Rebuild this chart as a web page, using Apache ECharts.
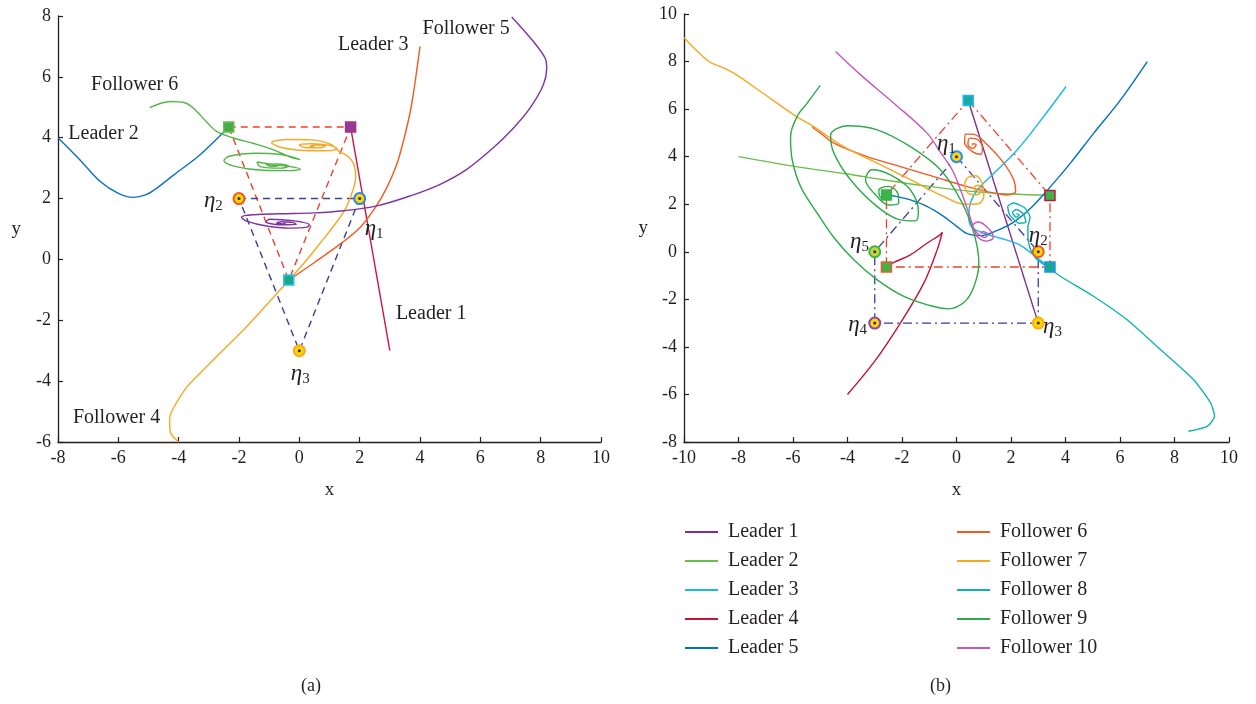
<!DOCTYPE html>
<html><head><meta charset="utf-8">
<script src="https://cdn.jsdelivr.net/npm/echarts@6/dist/echarts.min.js"></script>
<style>html,body{margin:0;padding:0;background:#fff}#c{width:1256px;height:704px}</style>
</head><body><div id="c"></div>
<script>
// ---------- Panel (a) data ----------
const aXTicks = [-8,-6,-4,-2,0,2,4,6,8,10];
const aYTicks = [-6,-4,-2,0,2,4,6,8];
const aLeader1 = [[3,-3],[1.7,4.35]];
const aLeader2 = [[-8,4],[-7.3,3.3],[-6.6,2.56],[-6,2.17],[-5.5,2.04],[-5.1,2.12],[-4.77,2.31],[-4.16,2.78],[-3.28,3.45],[-2.34,4.35]];
const aLeader3 = [[4,7],[3.84,5.85],[3.68,4.87],[3.45,3.89],[3.23,3.13],[2.9,2.36],[2.52,1.71],[2.02,1.06],[1.36,0.51],[0.5,-0.1],[-0.35,-0.68]];
const aFollower4 = [[-4,-6],[-4.28,-5.65],[-4.3,-5.25],[-4.08,-4.72],[-3.75,-4.22],[-3.2,-3.65],[-2.5,-2.95],[-1.75,-2.21],[-1.0,-1.4],[-0.4,-0.74],[0.2,-0.07],[0.7,0.55],[1.1,1.05],[1.51,1.63],[1.76,2.23],[1.87,2.72],[1.81,3.11],[1.62,3.38],[1.32,3.55],[1.05,3.78],[0.4,3.93],[-0.4,3.94],[-0.92,3.84],[-0.6,3.68],[0.2,3.58],[0.9,3.57],[1.25,3.64],[1.0,3.75],[0.4,3.8],[0.0,3.76],[0.2,3.68],[0.7,3.67],[0.85,3.72],[0.55,3.76],[0.35,3.72],[0.5,3.71]];
const aFollower5 = [[7.04,7.97],[7.76,7.16],[8.15,6.61],[8.2,6.28],[8.09,5.74],[7.65,4.98],[7.1,4.32],[6.43,3.67],[5.55,2.96],[4.67,2.47],[3.68,2.09],[2.57,1.76],[1.47,1.6],[0.5,1.53],[-0.65,1.5],[-1.5,1.47],[-1.92,1.39],[-1.75,1.26],[-1.09,1.1],[-0.31,1.03],[0.25,1.06],[0.33,1.14],[-0.2,1.27],[-0.98,1.32],[-1.1,1.24],[-0.65,1.14],[-0.1,1.15],[-0.2,1.21],[-0.6,1.24],[-0.75,1.2],[-0.55,1.17],[-0.45,1.2]];
const aFollower6 = [[-4.96,4.99],[-4.27,5.19],[-3.77,5.14],[-3.44,4.9],[-3.06,4.5],[-2.73,4.2],[-2.18,3.99],[-1.51,3.81],[-0.85,3.6],[-0.3,3.36],[0.03,3.28],[-0.6,3.45],[-1.5,3.49],[-2.3,3.4],[-2.5,3.25],[-2.1,3.05],[-1.2,2.93],[-0.3,2.92],[0.04,2.97],[-0.3,3.05],[-0.9,3.12],[-1.4,3.2],[-1.3,3.05],[-0.6,3.0],[-0.35,3.07],[-0.7,3.14],[-1.1,3.12],[-0.9,3.06],[-0.7,3.09],[-0.85,3.1]];
const aRedTriangle = [[-2.34,4.35],[1.7,4.35],[-0.35,-0.68],[-2.34,4.35]];
const aEtaTriangle = [[-2,2],[2,2],[0,-3],[-2,2]];
const aSquarePos = [[-2.34,4.35],[1.7,4.35],[-0.35,-0.68]];
const aSquareFill = ['#44ad4a','#8e3a9e','#18a88f'];
const aSquareEdge = ['#6abf4b','#b8306a','#2ec4e6'];
const aEtaPos = [[2,2],[-2,2],[0,-3]];
const aEtaEdge = ['#2e86de','#f05a28','#f7a823'];
const aEtaLabelPos = [[2.48,1.01],[-2.85,1.93],[0.03,-3.76]];
const aEtaLabelIdx = ['1','2','3'];
const aTextLabels = ['Follower 6','Leader 2','Leader 3','Follower 5','Leader 1','Follower 4'];
const aTextPos = [[-5.46,5.75],[-6.49,4.12],[2.45,7.06],[5.53,7.58],[4.37,-1.8],[-6.06,-5.2]];

// ---------- Panel (b) data ----------
const bLeader1 = [[3,-3],[0.43,6.36]];
const bLeader2 = [[-8,4],[-6,3.6],[-4,3.27],[-2.7,3.03],[-1,2.75],[0.64,2.53],[2,2.43],[3.43,2.37]];
const bLeader3 = [[4.02,6.95],[3.2,5.69],[2.23,4.29],[1.37,3.3],[0.76,2.6],[0.51,2.05],[0.45,1.48],[0.55,1.05],[1.0,0.78],[1.61,0.57],[2.2,0.35],[2.59,0.08],[3.0,-0.3],[3.43,-0.64]];
const bLeader4 = [[-4,-6],[-3,-4.6],[-2.06,-3],[-1.2,-1.32],[-0.71,0.08],[-0.52,0.82],[-0.62,0.7],[-1.07,0.37],[-1.69,-0.13],[-2.3,-0.45],[-2.57,-0.64]];
const bLeader5 = [[7,8],[6.02,6.39],[5.04,4.99],[4.18,3.73],[3.45,2.74],[2.72,1.83],[2.1,1.25],[1.5,0.9],[0.9,0.68],[0.39,0.76],[0.02,1.06],[-0.46,1.48],[-1.07,1.9],[-1.69,2.18],[-2.18,2.32],[-2.57,2.39]];
const bFollower6 = [[-5.3,5.25],[-5.0,5.0],[-4.5,4.57],[-3.28,4.0],[-2.06,3.58],[-0.83,3.16],[0.39,2.74],[1.13,2.53],[1.86,2.39],[2.17,2.55],[2.1,3.03],[1.74,3.73],[1.13,4.5],[0.6,4.95],[0.32,4.95],[0.3,4.6],[0.6,4.2],[0.9,4.1],[0.95,4.35],[0.8,4.7],[0.5,4.78],[0.42,4.5],[0.6,4.35],[0.72,4.5],[0.6,4.55],[0.58,4.48]];
const bFollower7 = [[-10,9],[-9.09,8.0],[-8.66,7.79],[-8.17,7.51],[-7.19,6.74],[-5.97,5.76],[-5.24,5.26],[-4.14,4.42],[-2.91,3.73],[-1.69,3.03],[-0.46,2.32],[0.3,2.0],[0.8,2.02],[1.0,2.35],[0.95,2.85],[0.7,3.2],[0.42,3.12],[0.3,2.8],[0.45,2.45],[0.75,2.4],[0.92,2.6],[0.82,2.8],[0.65,2.72],[0.68,2.58],[0.78,2.6]];
const bFollower8 = [[8.51,-7.55],[9.2,-7.34],[9.47,-6.92],[9.32,-6.35],[8.7,-5.38],[7.49,-4.12],[6.26,-2.86],[5.04,-1.88],[3.82,-1.04],[3.38,-0.67],[2.96,-0.34],[2.72,0.08],[2.62,0.6],[2.62,1.05],[2.7,1.45],[2.5,1.85],[2.1,2.05],[1.88,1.9],[1.95,1.55],[2.3,1.2],[2.55,1.25],[2.45,1.6],[2.2,1.78],[2.05,1.65],[2.2,1.45],[2.3,1.55],[2.2,1.6]];
const bFollower9 = [[-5,7],[-5.48,6.25],[-5.85,5.69],[-6.09,4.84],[-6.03,3.87],[-5.72,2.74],[-5.11,1.62],[-4.5,0.6],[-3.77,-0.34],[-2.91,-1.18],[-1.93,-1.88],[-1.07,-2.23],[-0.3,-2.4],[0.3,-2.1],[0.64,-1.46],[0.82,-0.48],[0.64,0.78],[0.15,2.18],[-0.59,3.45],[-1.69,4.42],[-2.91,5.13],[-4.0,5.3],[-4.62,4.9],[-4.5,4.15],[-3.89,3.03],[-2.91,1.9],[-2.06,1.34],[-1.5,1.3],[-1.4,1.7],[-1.69,2.6],[-2.42,3.23],[-3.1,3.45],[-3.34,3.03],[-3.03,2.47],[-2.48,1.97],[-2.12,2.05],[-2.15,2.45],[-2.5,2.75],[-2.85,2.6],[-2.8,2.3],[-2.5,2.2],[-2.45,2.45],[-2.6,2.5],[-2.57,2.39]];
const bFollower10 = [[-4.44,8.42],[-3.52,7.44],[-2.3,6.25],[-1.08,4.99],[-0.6,4.2],[-0.16,3.45],[0.15,2.6],[0.45,1.62],[0.6,1.1],[0.75,0.65],[1.1,0.45],[1.35,0.6],[1.2,0.95],[0.8,1.25],[0.6,1.1],[0.75,0.8],[1.05,0.6],[1.15,0.75],[0.95,0.85],[0.9,0.75]];
const bRedPentagon = [[0.43,6.36],[3.43,2.37],[3.43,-0.64],[-2.57,-0.64],[-2.57,2.39],[0.43,6.36]];
const bEtaPentagon = [[0,4],[3,0],[3,-3],[-3,-3],[-3,0],[0,4]];
const bSquarePos = [[0.43,6.36],[3.43,2.37],[3.43,-0.64],[-2.57,-0.64],[-2.57,2.39]];
const bSquareFill = ['#1aa8a8','#3cb44b','#1aa88a','#3cb44b','#3cb44b'];
const bSquareEdge = ['#29b6e8','#c0143c','#1e90ff','#f05a28','#3cb44b'];
const bEtaPos = [[0,4],[3,0],[3,-3],[-3,-3],[-3,0]];
const bEtaFill = ['#ffd400','#ffd400','#ffd400','#ffd400','#c8d62e'];
const bEtaEdge = ['#1e90ff','#f05a28','#f7b500','#8e44ad','#3cb44b'];
const bEtaLabelPos = [[-0.37,4.54],[3.0,0.67],[3.52,-3.15],[-3.63,-3.07],[-3.56,0.42]];
const bEtaLabelIdx = ['1','2','3','4','5'];

const legendLeft = ['Leader 1','Leader 2','Leader 3','Leader 4','Leader 5'];
const legendRight = ['Follower 6','Follower 7','Follower 8','Follower 9','Follower 10'];

const SERIF = "'Liberation Serif', 'DejaVu Serif', serif";
const INK = '#231f20';

function axisCommon(){
  return {
    type:'value',
    axisLine:{show:true,onZero:false,lineStyle:{color:INK,width:1.3}},
    axisTick:{show:true,inside:true,length:5,lineStyle:{color:INK,width:1.2}},
    splitLine:{show:false},
    axisLabel:{color:INK,fontFamily:SERIF,fontSize:18,margin:7},
    nameTextStyle:{color:INK,fontFamily:SERIF,fontSize:19},
    nameLocation:'middle'
  };
}
function lineS(name, data, color, g, extra){
  return Object.assign({
    type:'line', name:name, data:data, xAxisIndex:g, yAxisIndex:g,
    symbol:'none', smooth:0.35, lineStyle:{color:color,width:1.4}, itemStyle:{color:color},
    z:3, silent:true, clip:false
  }, extra||{});
}
function squares(pos, fill, edge, g){
  return {type:'scatter', xAxisIndex:g, yAxisIndex:g, symbol:'rect', symbolSize:10, z:6, silent:true,
    data:pos.map((p,i)=>({value:p,itemStyle:{color:fill[i],borderColor:edge[i],borderWidth:1.5,opacity:1}}))};
}
function etas(pos, fill, edge, g){
  return [{type:'scatter', xAxisIndex:g, yAxisIndex:g, symbol:'circle', symbolSize:11, z:6, silent:true,
    data:pos.map((p,i)=>({value:p,itemStyle:{color:fill[i],borderColor:edge[i],borderWidth:2,opacity:1}}))},
    {type:'scatter', xAxisIndex:g, yAxisIndex:g, symbol:'circle', symbolSize:3, z:7, silent:true,
    itemStyle:{color:'#2b2b6b',opacity:1}, data:pos.map(p=>p)}];
}
function etaLabels(pos, idx, g){
  return {type:'scatter', xAxisIndex:g, yAxisIndex:g, symbolSize:0, z:8, silent:true,
    itemStyle:{opacity:1},
    data:pos.map((p,i)=>({value:p,name:idx[i]})),
    label:{show:true,position:'inside',align:'center',verticalAlign:'middle',
      formatter:(d)=>'{e|η}{s|'+d.name+'}',
      rich:{e:{fontFamily:SERIF,fontStyle:'italic',fontSize:23,color:INK},
            s:{fontFamily:SERIF,fontSize:15,color:INK,verticalAlign:'bottom',padding:[10,0,0,0]}}}};
}

const aFill = aEtaPos.map(()=>'#ffd400');
const series = [
  lineS('aRed', aRedTriangle, '#f0402a', 0, {smooth:false, z:2, lineStyle:{color:'#f0402a',width:1.4,type:[7,5]}}),
  lineS('aEta', aEtaTriangle, '#3d3d99', 0, {smooth:false, z:2, lineStyle:{color:'#3d3d99',width:1.4,type:[7,5]}}),
  lineS('aL1', aLeader1, '#c8174b', 0, {smooth:false}),
  lineS('aL2', aLeader2, '#0a72c0', 0),
  lineS('aL3', aLeader3, '#f25a22', 0),
  lineS('aF4', aFollower4, '#f7a823', 0),
  lineS('aF5', aFollower5, '#8033a0', 0),
  lineS('aF6', aFollower6, '#55b447', 0),
  squares(aSquarePos, aSquareFill, aSquareEdge, 0),
  ...etas(aEtaPos, aFill, aEtaEdge, 0),
  etaLabels(aEtaLabelPos, aEtaLabelIdx, 0),
  {type:'scatter', xAxisIndex:0, yAxisIndex:0, symbolSize:0, z:8, silent:true, itemStyle:{opacity:1},
   data:aTextPos.map((p,i)=>({value:p,name:aTextLabels[i]})),
   label:{show:true,position:'inside',align:'center',verticalAlign:'middle',formatter:'{b}',
     fontFamily:SERIF,fontSize:20,color:INK}},

  lineS('bRed', bRedPentagon, '#f0402a', 1, {smooth:false, z:2, lineStyle:{color:'#f0402a',width:1.3,type:[9,4,2,4]}}),
  lineS('bEta', bEtaPentagon, '#3d3d99', 1, {smooth:false, z:2, lineStyle:{color:'#3d3d99',width:1.3,type:[9,4,2,4]}}),
  lineS('Leader 1', bLeader1, '#7e2f8e', 1, {smooth:false}),
  lineS('Leader 2', bLeader2, '#6abf4b', 1),
  lineS('Leader 3', bLeader3, '#1bb8e8', 1),
  lineS('Leader 4', bLeader4, '#c0143c', 1),
  lineS('Leader 5', bLeader5, '#0072bd', 1),
  lineS('Follower 6', bFollower6, '#f15a24', 1),
  lineS('Follower 7', bFollower7, '#f7a823', 1),
  lineS('Follower 8', bFollower8, '#12b2b2', 1, {smooth:0.2}),
  lineS('Follower 9', bFollower9, '#2eaa4a', 1),
  lineS('Follower 10', bFollower10, '#c558b8', 1),
  squares(bSquarePos, bSquareFill, bSquareEdge, 1),
  ...etas(bEtaPos, bEtaFill, bEtaEdge, 1),
  etaLabels(bEtaLabelPos, bEtaLabelIdx, 1)
];

const legendCommon = {orient:'vertical', padding:0, itemWidth:33, itemHeight:14, itemGap:9, icon:'path://M0,0L33,0L33,2L0,2Z',
  textStyle:{fontFamily:SERIF,fontSize:20,color:INK,padding:[0,0,0,5]}, selectedMode:false};

const option = {
  animation:false,
  backgroundColor:'#fff',
  grid:[{left:58,top:16,width:543,height:426},{left:684,top:14,width:545,height:428}],
  xAxis:[
    Object.assign(axisCommon(),{gridIndex:0,min:-8,max:10,interval:2,name:'x',nameGap:39}),
    Object.assign(axisCommon(),{gridIndex:1,min:-10,max:10,interval:2,name:'x',nameGap:39})
  ],
  yAxis:[
    Object.assign(axisCommon(),{gridIndex:0,min:-6,max:8,interval:2,name:'y',nameGap:37,nameRotate:0}),
    Object.assign(axisCommon(),{gridIndex:1,min:-8,max:10,interval:2,name:'y',nameGap:36,nameRotate:0})
  ],
  legend:[
    Object.assign({},legendCommon,{data:legendLeft,left:685,top:522}),
    Object.assign({},legendCommon,{data:legendRight,left:957,top:522})
  ],
  graphic:[
    {type:'text',left:301,top:677,style:{text:'(a)',font:"18px 'Liberation Serif'",fill:INK}},
    {type:'text',left:930,top:677,style:{text:'(b)',font:"18px 'Liberation Serif'",fill:INK}}
  ],
  series:series
};
const chart = echarts.init(document.getElementById('c'));
chart.setOption(option);
</script></body></html>
